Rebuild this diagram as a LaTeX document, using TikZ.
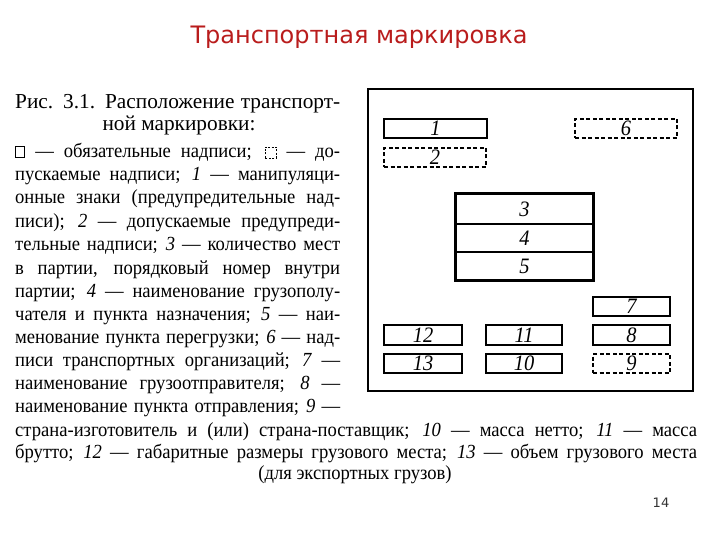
\documentclass[tikz,border=0pt]{standalone}
\usepackage{fontspec}
\setmainfont[FakeStretch=0.93]{Liberation Serif}
\newfontfamily\headfont{Liberation Serif}
\newfontfamily\titlefont{DejaVu Sans}
\definecolor{titlered}{RGB}{185,28,28}
\newcommand\solidsq{\tikz[baseline=0pt]\draw[line width=1pt] (0pt,0pt) rectangle (9pt,11pt);}
\newcommand\dashsq{\tikz[baseline=0pt]\draw[line width=0.9pt,dash pattern=on 2pt off 1.5pt] (0pt,0pt) rectangle (11pt,11pt);}
\newcommand\jline[2]{\hbox to #1{#2}}
\tikzset{
  numfont/.style={font=\fontsize{22}{24}\selectfont\itshape},
  thickbox/.style={draw, line width=2.2pt, inner sep=0pt, numfont},
  thinbox/.style={draw, line width=1.2pt, inner sep=0pt, numfont},
  dashbox/.style={draw, line width=1.1pt, dash pattern=on 4pt off 2.5pt, inner sep=0pt, numfont},
  bodyline/.style={anchor=base west, inner sep=0pt, font=\fontsize{20}{22}\selectfont},
  headline/.style={inner sep=0pt, font=\headfont\fontsize{21.3}{24}\selectfont},
}
\begin{document}
\begin{tikzpicture}[x=1pt,y=-1pt]
\useasboundingbox (0,0) rectangle (720,540);
% title
\node[font=\titlefont\fontsize{24}{28}\selectfont, text=titlered] (title) at (359,37) {Транспортная маркировка};
% caption
\node[headline, anchor=base west] (h1) at (15,109) {\jline{325pt}{Рис. 3.1. Расположение транспорт-}};
\node[headline, anchor=base] (h2) at (179,131) {ной маркировки:};
\node[bodyline] (l1) at (15,158) {\jline{325pt}{\solidsq\ — обязательные надписи; \dashsq\ — до-}};
\node[bodyline] (l2) at (15,181) {\jline{325pt}{пускаемые надписи; \textit{1} — манипуляци-}};
\node[bodyline] (l3) at (15,204) {\jline{325pt}{онные знаки (предупредительные над-}};
\node[bodyline] (l4) at (15,227) {\jline{325pt}{писи); \textit{2} — допускаемые предупреди-}};
\node[bodyline] (l5) at (15,251) {\jline{325pt}{тельные надписи; \textit{3} — количество мест}};
\node[bodyline] (l6) at (15,274) {\jline{325pt}{в партии, порядковый номер внутри}};
\node[bodyline] (l7) at (15,297) {\jline{325pt}{партии; \textit{4} — наименование грузополу-}};
\node[bodyline] (l8) at (15,320) {\jline{325pt}{чателя и пункта назначения; \textit{5} — наи-}};
\node[bodyline] (l9) at (15,343) {\jline{325pt}{менование пункта перегрузки; \textit{6} — над-}};
\node[bodyline] (l10) at (15,366) {\jline{325pt}{писи транспортных организаций; \textit{7} —}};
\node[bodyline] (l11) at (15,389) {\jline{325pt}{наименование грузоотправителя; \textit{8} —}};
\node[bodyline] (l12) at (15,412) {\jline{325pt}{наименование пункта отправления; \textit{9} —}};
\node[bodyline] (l13) at (15,436) {\jline{682pt}{страна-изготовитель и (или) страна-поставщик; \textit{10} — масса нетто; \textit{11} — масса}};
\node[bodyline] (l14) at (15,458) {\jline{682pt}{брутто; \textit{12} — габаритные размеры грузового места; \textit{13} — объем грузового места}};
\node[bodyline, anchor=base] (l15) at (355,479) {(для экспортных грузов)};
% page number
\node[font=\titlefont\fontsize{13}{15}\selectfont, text=black!80] (pg) at (661,503) {14};
% frame
\draw[line width=2pt] (368,89) rectangle (693,391);
% boxes
\node[thickbox, minimum width=103pt, minimum height=19pt] (b1) at (435.5,128.5) {1};
\node[dashbox, minimum width=102pt, minimum height=19pt] (b2) at (435,157.5) {2};
\node[dashbox, minimum width=102pt, minimum height=19pt] (b6) at (626,128.5) {6};
\node[thinbox, minimum width=137pt, minimum height=30pt] (b3) at (524.5,209) {3};
\node[thinbox, minimum width=137pt, minimum height=28pt] (b4) at (524.5,238) {4};
\node[thinbox, minimum width=137pt, minimum height=28pt] (b5) at (524.5,266) {5};
\draw[line width=2.2pt] (b3.north west) rectangle (b5.south east);
\node[thinbox, minimum width=77pt, minimum height=19pt] (b7) at (631.5,306.5) {7};
\node[thickbox, minimum width=77pt, minimum height=20pt] (b8) at (631.5,335) {8};
\node[dashbox, minimum width=77pt, minimum height=19pt] (b9) at (631.5,363.5) {9};
\node[thickbox, minimum width=78pt, minimum height=20pt] (b12) at (423,335) {12};
\node[thickbox, minimum width=78pt, minimum height=19pt] (b13) at (423,363.5) {13};
\node[thickbox, minimum width=76pt, minimum height=20pt] (b11) at (524,335) {11};
\node[thickbox, minimum width=76pt, minimum height=19pt] (b10) at (524,363.5) {10};
\end{tikzpicture}
\end{document}
